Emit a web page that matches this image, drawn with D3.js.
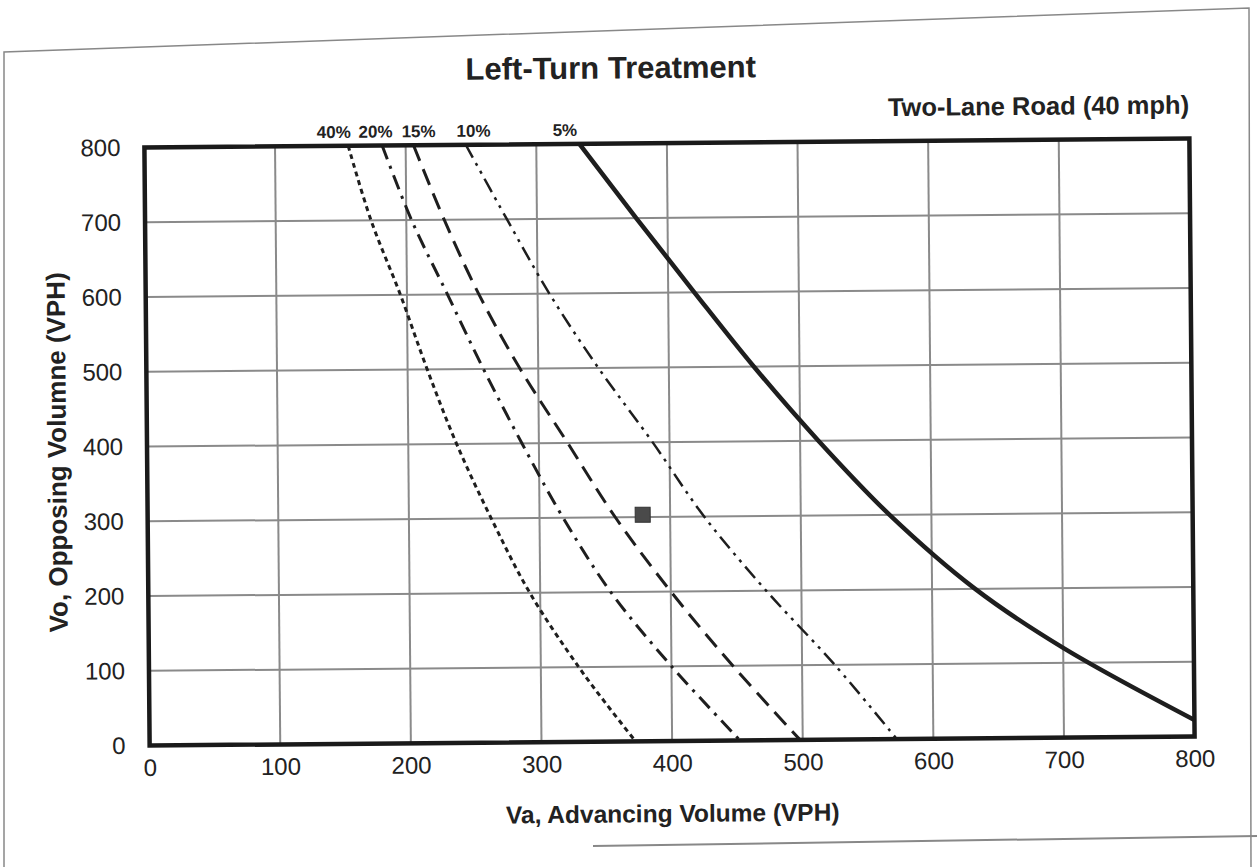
<!DOCTYPE html>
<html>
<head>
<meta charset="utf-8">
<script src="https://cdn.jsdelivr.net/npm/d3@7"></script>
<style>
  body { margin: 0; background: #fff; }
  text { font-family: Arial, "Liberation Sans", Helvetica, sans-serif; fill: #222; }
</style>
</head>
<body>
<svg></svg>
<script>
// percent of left turns, one curve each
const curveLabels = ['40%', '20%', '15%', '10%', '5%'];
const labelVa = [145, 177, 210, 252, 322];

// Va, advancing volume (x) and Vo, opposing volume (y)
const va40 = [156, 173, 195, 215, 237, 263, 292, 329, 350, 372];
const vo40 = [800, 700, 600, 500, 400, 300, 200, 100, 50, 0];

const va20 = [182, 204, 231, 258, 287, 318, 354, 400, 452];
const vo20 = [800, 700, 600, 500, 400, 300, 200, 100, 0];

const va15 = [206, 229, 255, 286, 322, 358, 400, 447, 498];
const vo15 = [800, 700, 600, 500, 400, 300, 200, 100, 0];

const va10 = [246, 277, 309, 346, 387, 426, 473, 525, 572];
const vo10 = [800, 700, 600, 500, 400, 300, 200, 100, 0];

const va5 = [333, 376, 420, 465, 514, 568, 633, 700, 800];
const vo5 = [800, 700, 600, 500, 400, 300, 200, 120, 22];

// the plotted point
const pointVa = [379];
const pointVo = [303];

const xTicks = [0, 100, 200, 300, 400, 500, 600, 700, 800];
const yTicks = [0, 100, 200, 300, 400, 500, 600, 700, 800];

const svgWidth = 1257;
const svgHeight = 867;
const plotLeft = 147, plotRight = 1192, plotTop = 143, plotBottom = 741;

const svg = d3.select('svg')
    .attr('width', svgWidth)
    .attr('height', svgHeight);

// scanned page frame
const frame = [[4, 867], [4, 52], [1249, 8], [1251, 867]];
svg.append('path')
    .attr('d', d3.line()(frame))
    .attr('fill', 'none')
    .attr('stroke', '#888')
    .attr('stroke-width', 1.5);
svg.append('path')
    .attr('d', d3.line()([[593, 846], [1257, 836]]))
    .attr('stroke', '#888')
    .attr('stroke-width', 2);

// the scan is slightly tilted
const chart = svg.append('g')
    .attr('transform', `rotate(-0.5, ${(plotLeft + plotRight) / 2}, ${(plotTop + plotBottom) / 2})`);

const xScale = d3.scaleLinear().domain([0, 800]).range([plotLeft, plotRight]);
const yScale = d3.scaleLinear().domain([0, 800]).range([plotBottom, plotTop]);

// grid
chart.append('g')
    .selectAll('line')
    .data(xTicks.slice(1, -1))
    .enter()
    .append('line')
    .attr('x1', d => xScale(d))
    .attr('x2', d => xScale(d))
    .attr('y1', plotTop)
    .attr('y2', plotBottom)
    .attr('stroke', '#8a8a8a')
    .attr('stroke-width', 2);

chart.append('g')
    .selectAll('line')
    .data(yTicks.slice(1, -1))
    .enter()
    .append('line')
    .attr('x1', plotLeft)
    .attr('x2', plotRight)
    .attr('y1', d => yScale(d))
    .attr('y2', d => yScale(d))
    .attr('stroke', '#8a8a8a')
    .attr('stroke-width', 2);

// axes, labels only
const xAxis = chart.append('g')
    .attr('transform', `translate(0, ${plotBottom})`)
    .call(d3.axisBottom(xScale).tickValues(xTicks).tickSize(0).tickPadding(28));
const yAxis = chart.append('g')
    .attr('transform', `translate(${plotLeft}, 0)`)
    .call(d3.axisLeft(yScale).tickValues(yTicks).tickSize(0).tickPadding(24));
[xAxis, yAxis].forEach(a => {
  a.select('.domain').remove();
  a.selectAll('text')
      .style('font-family', 'Arial, "Liberation Sans", sans-serif')
      .style('font-size', '24px')
      .attr('fill', '#222');
});
xAxis.selectAll('text').attr('dy', '0.1em');

// curves
const series = [
  { va: va40, vo: vo40, dash: '5,4', width: 3 },
  { va: va20, vo: vo20, dash: '15,7,3,7', width: 3 },
  { va: va15, vo: vo15, dash: '17,9', width: 3 },
  { va: va10, vo: vo10, dash: '15,6,3,6,3,6', width: 2.5 },
  { va: va5, vo: vo5, dash: null, width: 4.5 }
];

const line = d3.line()
    .x(d => xScale(d[0]))
    .y(d => yScale(d[1]))
    .curve(d3.curveCatmullRom);

chart.append('g')
    .selectAll('path')
    .data(series)
    .enter()
    .append('path')
    .attr('d', s => line(s.va.map((v, i) => [v, s.vo[i]])))
    .attr('fill', 'none')
    .attr('stroke', '#1e1e1e')
    .attr('stroke-width', s => s.width)
    .attr('stroke-dasharray', s => s.dash);

// plot border
chart.append('rect')
    .attr('x', plotLeft)
    .attr('y', plotTop)
    .attr('width', plotRight - plotLeft)
    .attr('height', plotBottom - plotTop)
    .attr('fill', 'none')
    .attr('stroke', '#1a1a1a')
    .attr('stroke-width', 4.5);

// the point
chart.selectAll('.pt')
    .data(pointVa)
    .enter()
    .append('rect')
    .attr('class', 'pt')
    .attr('x', d => xScale(d) - 7.5)
    .attr('y', (d, i) => yScale(pointVo[i]) - 7.5)
    .attr('width', 15)
    .attr('height', 15)
    .attr('fill', '#4a4a4a')
    .attr('stroke', '#333')
    .attr('stroke-width', 1);

// curve labels
chart.selectAll('.lbl')
    .data(curveLabels)
    .enter()
    .append('text')
    .attr('class', 'lbl')
    .attr('x', (d, i) => xScale(labelVa[i]))
    .attr('y', plotTop - 8)
    .attr('text-anchor', 'middle')
    .style('font-size', '17px')
    .style('font-weight', 'bold')
    .text(d => d);

// titles
chart.append('text')
    .attr('x', 614)
    .attr('y', 78)
    .attr('text-anchor', 'middle')
    .style('font-size', '31px')
    .style('font-weight', 'bold')
    .text('Left-Turn Treatment');

chart.append('text')
    .attr('x', plotRight)
    .attr('y', 118)
    .attr('text-anchor', 'end')
    .style('font-size', '25.5px')
    .style('font-weight', 'bold')
    .text('Two-Lane Road (40 mph)');

chart.append('text')
    .attr('x', (plotLeft + plotRight) / 2)
    .attr('y', 822)
    .attr('text-anchor', 'middle')
    .style('font-size', '24.5px')
    .style('font-weight', 'bold')
    .text('Va, Advancing Volume (VPH)');

chart.append('text')
    .attr('transform', `translate(66, 447) rotate(-90)`)
    .attr('text-anchor', 'middle')
    .style('font-size', '26px')
    .style('font-weight', 'bold')
    .text('Vo, Opposing Volumne (VPH)');
</script>
</body>
</html>
